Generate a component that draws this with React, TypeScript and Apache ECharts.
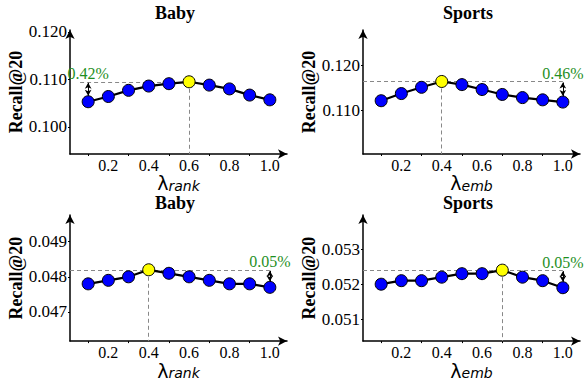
import React, { useEffect, useRef } from "react";
import * as echarts from "echarts";

const lambdas = [0.1, 0.2, 0.3, 0.4, 0.5, 0.6, 0.7, 0.8, 0.9, 1.0];
const xTicks = [0.2, 0.4, 0.6, 0.8, 1.0];
const xMinorTicks = [0.1, 0.3, 0.5, 0.7, 0.9];

const babyRankTop = [0.1053, 0.1064, 0.1077, 0.1086, 0.1091, 0.1095, 0.1088, 0.108, 0.1067, 0.1057];
const sportsEmbTop = [0.1121, 0.1137, 0.1151, 0.1164, 0.1157, 0.1146, 0.1135, 0.1128, 0.1123, 0.1118];
const babyRankBottom = [0.0478, 0.0479, 0.048, 0.0482, 0.0481, 0.048, 0.0479, 0.0478, 0.0478, 0.0477];
const sportsEmbBottom = [0.052, 0.0521, 0.0521, 0.0522, 0.0523, 0.0523, 0.0524, 0.0522, 0.0521, 0.0519];

const titles = ["Baby", "Sports", "Baby", "Sports"];
const subs = ["rank", "emb", "rank", "emb"];
const gains = ["0.42%", "0.46%", "0.05%", "0.05%"];
const arrowAt = [0.1, 1.0, 1.0, 1.0];
const yTicks = [
  [0.1, 0.11, 0.12],
  [0.11, 0.12],
  [0.047, 0.048, 0.049],
  [0.051, 0.052, 0.053],
];
const yRanges = [
  [0.0943, 0.1204],
  [0.1002, 0.1279],
  [0.04617, 0.04976],
  [0.05038, 0.05397],
];
const series = [babyRankTop, sportsEmbTop, babyRankBottom, sportsEmbBottom];

const grids = [
  { left: 70, top: 30, width: 217, height: 124 },
  { left: 363, top: 30, width: 217, height: 124 },
  { left: 70, top: 215, width: 217, height: 127 },
  { left: 363, top: 215, width: 217, height: 127 },
];
const titleTops = [4, 4, 194, 194];
const X_MIN = 0.01;
const X_MAX = 1.085;
const SERIF = "'Liberation Serif', 'Times New Roman', serif";
const SANS = "'DejaVu Sans', sans-serif";

export default function App() {
  const ref = useRef<HTMLDivElement>(null);
  useEffect(() => {
    if (!ref.current) return;
    const chart = echarts.init(ref.current, null, { renderer: "svg" });
    const xAxis: any[] = [];
    const yAxis: any[] = [];
    const ser: any[] = [];
    const title: any[] = [];
    series.forEach((vals, i) => {
      const g = grids[i];
      const maxVal = Math.max(...vals);
      const maxIdx = vals.indexOf(maxVal);
      const ax = arrowAt[i];
      const axIdx = lambdas.indexOf(ax);
      const range = yRanges[i][1] - yRanges[i][0];
      const pxUnit = range / g.height;
      title.push({
        text: titles[i],
        left: g.left + 105,
        top: titleTops[i],
        textAlign: "center",
        padding: 0,
        textStyle: { fontFamily: SERIF, fontWeight: "bold", fontSize: 18, color: "#000", lineHeight: 18 },
      });
      xAxis.push({
        type: "value",
        gridIndex: i,
        min: X_MIN,
        max: X_MAX,
        splitLine: { show: false },
        axisTick: {
          show: true,
          customValues: xMinorTicks,
          length: 2,
          lineStyle: { color: "#000", width: 1 },
        },
        axisLine: {
          show: true,
          symbol: ["none", "arrow"],
          symbolSize: [7, 9],
          lineStyle: { color: "#000", width: 1.5 },
        },
        axisLabel: {
          customValues: xTicks,
          formatter: (v: number) => v.toFixed(1),
          fontFamily: SERIF,
          fontSize: 16,
          color: "#000",
          margin: 3,
        },
        name: `{l|λ}{s|${subs[i]}}`,
        nameLocation: "middle",
        nameGap: 22,
        nameTextStyle: {
          rich: {
            l: { fontFamily: SANS, fontSize: 19, color: "#000", lineHeight: 16, verticalAlign: "bottom" },
            s: {
              fontFamily: SANS,
              fontStyle: "italic",
              fontSize: 14,
              color: "#000",
              lineHeight: 16,
              verticalAlign: "bottom",
            },
          },
        },
      });
      yAxis.push({
        type: "value",
        gridIndex: i,
        min: yRanges[i][0],
        max: yRanges[i][1],
        splitLine: { show: false },
        axisTick: {
          show: true,
          customValues: yTicks[i],
          length: 2,
          lineStyle: { color: "#000", width: 1 },
        },
        axisLine: {
          show: true,
          symbol: ["none", "arrow"],
          symbolSize: [7, 9],
          lineStyle: { color: "#000", width: 1.5 },
        },
        axisLabel: {
          customValues: yTicks[i],
          formatter: (v: number) => v.toFixed(3),
          fontFamily: SERIF,
          fontSize: 17,
          color: "#000",
          margin: 3,
        },
        name: "Recall@20",
        nameLocation: "middle",
        nameRotate: 90,
        nameGap: 43,
        nameTextStyle: { fontFamily: SERIF, fontWeight: "bold", fontSize: 18, color: "#000" },
      });
      const hStart = i === 0 ? 0.06 : X_MIN;
      const hEnd = i === 0 ? lambdas[maxIdx] : 1.0;
      const ptVal = vals[axIdx];
      const arrowEnd = ptVal + 6 * pxUnit;
      const arrowTop = maxVal - 1 * pxUnit;
      ser.push({
        type: "line",
        xAxisIndex: i,
        yAxisIndex: i,
        z: 3,
        data: lambdas.map((x, k) => ({
          value: [x, vals[k]],
          itemStyle: { color: k === maxIdx ? "#ffff00" : "#0000ff" },
        })),
        symbol: "circle",
        symbolSize: 12,
        lineStyle: { color: "#000", width: 2.2 },
        itemStyle: { borderColor: "#000", borderWidth: 1, color: "#0000ff" },
        markLine: {
          silent: true,
          z: 2,
          data: [
            [
              { coord: [hStart, maxVal], symbol: "none" },
              { coord: [hEnd, maxVal], symbol: "none" },
            ],
            [
              { coord: [lambdas[maxIdx], maxVal], symbol: "none" },
              { coord: [lambdas[maxIdx], yRanges[i][0]], symbol: "none" },
            ],
          ],
          lineStyle: { color: "#888", type: [4, 3], width: 1 },
          label: { show: false },
        },
      });
      ser.push({
        type: "line",
        xAxisIndex: i,
        yAxisIndex: i,
        z: 4,
        data: [],
        markLine: {
          silent: true,
          symbol: ["arrow", "arrow"],
          symbolSize: [5, 6],
          data: [[{ coord: [ax, arrowTop] }, { coord: [ax, arrowEnd] }]],
          lineStyle: { color: "#000", type: "solid", width: 1 },
          label: { show: false },
        },
        markPoint: {
          silent: true,
          symbol: "circle",
          symbolSize: 0,
          data: [{ coord: [ax, maxVal] }],
          label: {
            show: true,
            position: "top",
            distance: 0,
            formatter: gains[i],
            fontFamily: SERIF,
            fontSize: 16,
            color: "#1f8f1f",
          },
        },
      });
    });
    chart.setOption({
      animation: false,
      backgroundColor: "#fff",
      title,
      grid: grids,
      xAxis,
      yAxis,
      series: ser,
    });
    return () => chart.dispose();
  }, []);
  return <div ref={ref} style={{ width: 587, height: 381, position: "absolute", left: 0, top: 0 }} />;
}
